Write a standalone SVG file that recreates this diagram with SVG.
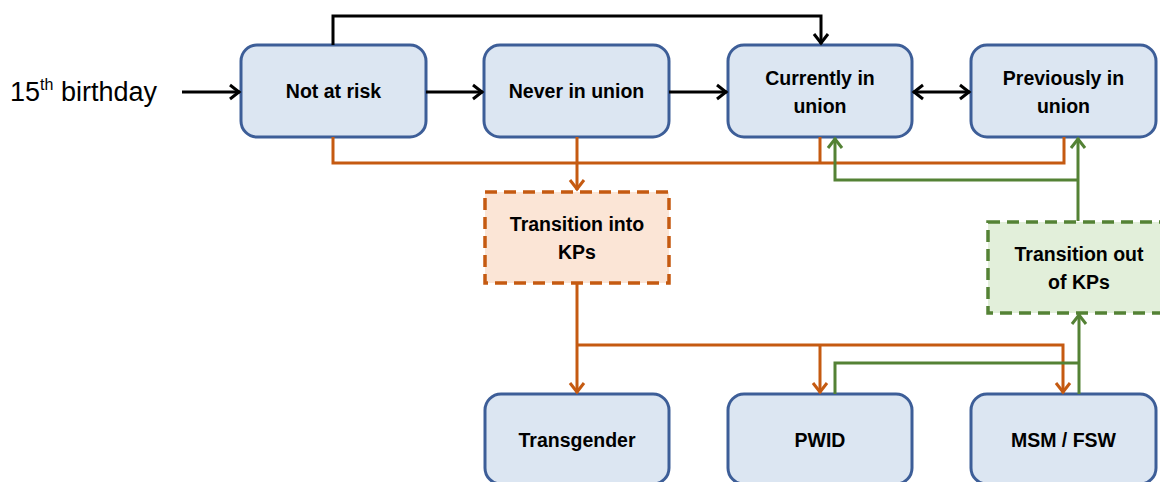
<svg xmlns="http://www.w3.org/2000/svg" width="1160" height="482" viewBox="0 0 1160 482">
<style>
.box{fill:#DCE6F2;stroke:#3D5E98;stroke-width:3}
.kin{fill:#FBE5D6;stroke:#C55A11;stroke-width:3.5;stroke-dasharray:12 7}
.kout{fill:#E2EFDA;stroke:#548235;stroke-width:3.5;stroke-dasharray:12 7}
.t{font-family:"Liberation Sans",Arial,sans-serif;font-weight:bold;font-size:19.5px;fill:#000;text-anchor:middle}
.blk{fill:none;stroke:#000;stroke-width:3}
.org{fill:none;stroke:#C55A11;stroke-width:3}
.grn{fill:none;stroke:#548235;stroke-width:3}
</style>
<defs>
<marker id="ab" markerUnits="userSpaceOnUse" markerWidth="20" markerHeight="20" viewBox="-12 -10 14 20" refX="0" refY="0" orient="auto-start-reverse"><path d="M-10,-7 L-1,0 L-10,7" fill="none" stroke="#000" stroke-width="3"/></marker>
<marker id="ao" markerUnits="userSpaceOnUse" markerWidth="20" markerHeight="20" viewBox="-12 -10 14 20" refX="0" refY="0" orient="auto"><path d="M-10,-7 L-1,0 L-10,7" fill="none" stroke="#C55A11" stroke-width="3"/></marker>
<marker id="ag" markerUnits="userSpaceOnUse" markerWidth="20" markerHeight="20" viewBox="-12 -10 14 20" refX="0" refY="0" orient="auto"><path d="M-10,-7 L-1,0 L-10,7" fill="none" stroke="#548235" stroke-width="3"/></marker>
</defs>
<rect width="1160" height="482" fill="#fff"/>
<text x="10" y="101" font-family="Liberation Sans,Arial,sans-serif" font-size="27" fill="#000">15<tspan dy="-11" font-size="16">th</tspan><tspan dy="11"> birthday</tspan></text>
<g id="not-at-risk"><rect class="box" x="241" y="45" width="185" height="92" rx="16"/><text class="t" x="333.5" y="98">Not at risk</text></g>
<g id="never-in-union"><rect class="box" x="484" y="45" width="185" height="92" rx="16"/><text class="t" x="576.5" y="98">Never in union</text></g>
<g id="currently-in-union"><rect class="box" x="728" y="45" width="184" height="92" rx="16"/><text class="t" x="820" y="85">Currently in</text><text class="t" x="820" y="113">union</text></g>
<g id="previously-in-union"><rect class="box" x="971" y="45" width="185" height="92" rx="16"/><text class="t" x="1063.5" y="85">Previously in</text><text class="t" x="1063.5" y="113">union</text></g>
<g id="transition-into-kps"><rect class="kin" x="485" y="192" width="184" height="91"/><text class="t" x="577" y="231">Transition into</text><text class="t" x="577" y="259">KPs</text></g>
<g id="transition-out-of-kps"><rect class="kout" x="988" y="222" width="185" height="91"/><text class="t" x="1079" y="261">Transition out</text><text class="t" x="1079" y="289">of KPs</text></g>
<g id="transgender"><rect class="box" x="485" y="394" width="184" height="90" rx="16"/><text class="t" x="577" y="447">Transgender</text></g>
<g id="pwid"><rect class="box" x="728" y="394" width="184" height="90" rx="16"/><text class="t" x="820" y="447">PWID</text></g>
<g id="msm-fsw"><rect class="box" x="971" y="394" width="185" height="90" rx="16"/><text class="t" x="1063.5" y="447">MSM / FSW</text></g>
<g id="connectors">
<path class="blk" d="M182,92 H240" marker-end="url(#ab)"/>
<path class="blk" d="M426,92 H483" marker-end="url(#ab)"/>
<path class="blk" d="M669,92 H727" marker-end="url(#ab)"/>
<path class="blk" d="M913,92 H970" marker-start="url(#ab)" marker-end="url(#ab)"/>
<path class="blk" d="M333,45 V16 H821 V44" marker-end="url(#ab)"/>
<path class="org" d="M333,137 V163 H1064 V137"/>
<path class="org" d="M820,137 V163"/>
<path class="org" d="M577,137 V190" marker-end="url(#ao)"/>
<path class="org" d="M577,284 V393" marker-end="url(#ao)"/>
<path class="org" d="M577,345 H1063 V393" marker-end="url(#ao)"/>
<path class="org" d="M820,345 V393" marker-end="url(#ao)"/>
<path class="grn" d="M835,394 V363 H1079"/>
<path class="grn" d="M1079,394 V314" marker-end="url(#ag)"/>
<path class="grn" d="M1078,221 V138" marker-end="url(#ag)"/>
<path class="grn" d="M1078,180 H835 V138" marker-end="url(#ag)"/>
</g>
</svg>
